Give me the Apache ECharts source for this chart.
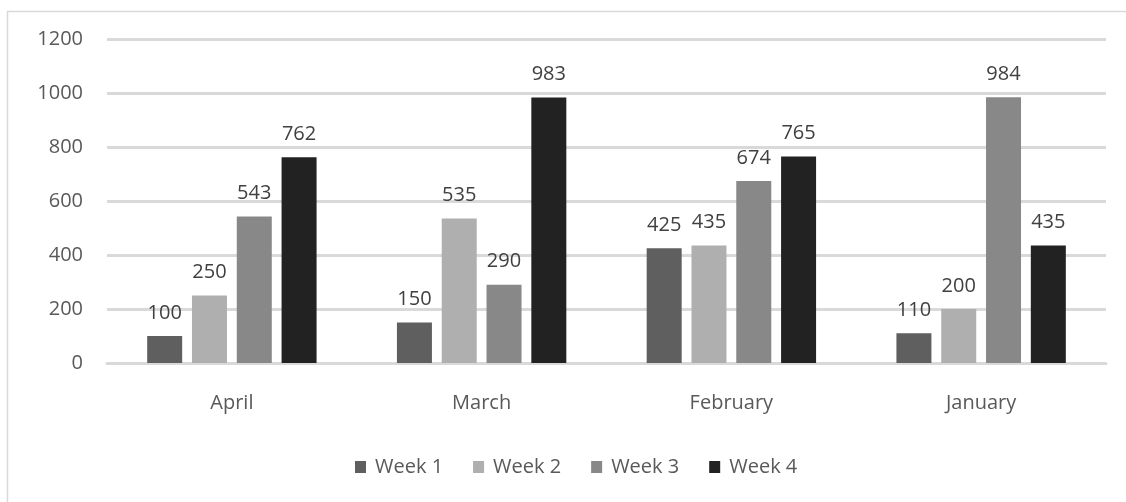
<!DOCTYPE html>
<html>
<head>
<meta charset="utf-8">
<script src="https://cdn.jsdelivr.net/npm/echarts@6/dist/echarts.min.js"></script>
<style>
html,body{margin:0;padding:0;background:#fff;}
#c{width:1126px;height:502px;}
</style>
</head>
<body>
<div id="c"></div>
<script>
var categories = ['April', 'March', 'February', 'January'];
var seriesNames = ['Week 1', 'Week 2', 'Week 3', 'Week 4'];
var week1 = [100, 150, 425, 110];
var week2 = [250, 535, 435, 200];
var week3 = [543, 290, 674, 984];
var week4 = [762, 983, 765, 435];
var yTicks = [0, 200, 400, 600, 800, 1000, 1200];
var colors = ['#5f5f5f', '#afafaf', '#888888', '#222222'];

var allData = [week1, week2, week3, week4];
var font = '"Open Sans", "Liberation Sans", sans-serif';

var chart = echarts.init(document.getElementById('c'), null, {renderer: 'canvas'});
chart.setOption({
  animation: false,
  backgroundColor: '#fff',
  textStyle: {fontFamily: font},
  graphic: [{
    type: 'rect',
    shape: {x: 7.5, y: 11.5, width: 1130, height: 500},
    style: {fill: 'none', stroke: '#d9d9d9', lineWidth: 1.5},
    silent: true, z: -10
  }],
  grid: {left: 107, right: 20, top: 39, bottom: 139, containLabel: false},
  legend: {
    data: seriesNames,
    bottom: 20,
    left: 350,
    icon: 'rect',
    itemWidth: 11, itemHeight: 12,
    itemGap: 30,
    textStyle: {color: '#595959', fontSize: 20, fontFamily: font, padding: [0, 0, 0, 4]}
  },
  xAxis: {
    type: 'category',
    data: categories,
    axisLine: {show: true, lineStyle: {color: '#d9d9d9', width: 3}},
    axisTick: {show: false},
    axisLabel: {color: '#595959', fontSize: 20, margin: 30, fontFamily: font}
  },
  yAxis: {
    type: 'value',
    min: yTicks[0], max: yTicks[yTicks.length - 1], interval: 200,
    axisLine: {show: false},
    axisTick: {show: false},
    splitLine: {lineStyle: {color: '#d9d9d9', width: 3}},
    axisLabel: {color: '#595959', fontSize: 20, margin: 24, fontFamily: font,
      formatter: function (v) { return String(v); }}
  },
  series: seriesNames.map(function (n, i) {
    return {
      name: n,
      type: 'bar',
      data: allData[i],
      barWidth: 35,
      barGap: '28%',
      itemStyle: {color: colors[i]},
      label: {show: true, position: 'top', distance: 13, color: '#404040', fontSize: 20, fontFamily: font}
    };
  })
});
</script>
</body>
</html>
